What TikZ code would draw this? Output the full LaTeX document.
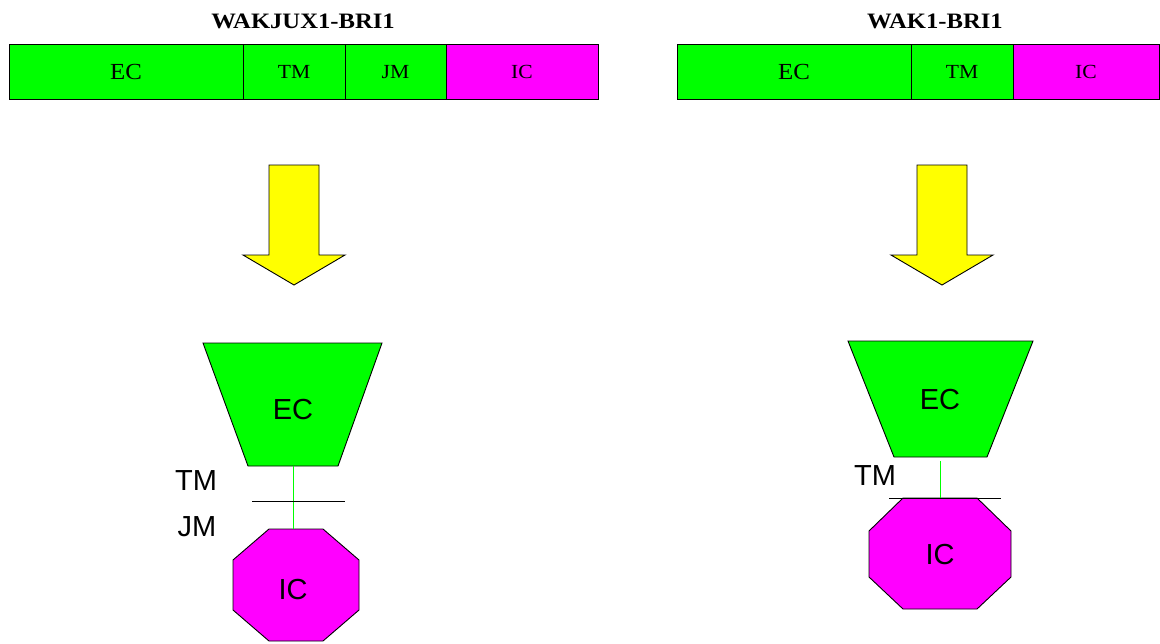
\documentclass[tikz,border=0pt]{standalone}
\usepackage{fontspec}
\setmainfont{Liberation Serif}
\newfontfamily\arialfont{Liberation Sans}
\newfontfamily\barfont[FakeStretch=1.08]{Liberation Serif}
\newfontfamily\titlefont[FakeStretch=1.12]{Liberation Serif}
\usetikzlibrary{positioning}
\definecolor{ecgreen}{RGB}{0,255,0}
\definecolor{icpink}{RGB}{255,0,255}
\definecolor{arrowyel}{RGB}{255,255,0}
\tikzset{
  cell/.style={draw, line width=0.9pt, outer sep=0pt, inner sep=0pt,
    minimum height=55pt, font=\barfont\fontsize{20}{20}\selectfont},
  bigcell/.style={cell, font=\barfont\fontsize{23}{23}\selectfont},
  title/.style={font=\titlefont\bfseries\fontsize{22}{22}\selectfont},
  lbl/.style={font=\arialfont\fontsize{29}{29}\selectfont, inner sep=0pt},
  shapefill/.style={draw, line width=0.9pt, line join=miter},
  arrowbox/.style={draw, line width=0.9pt, fill=arrowyel},
  greenlink/.style={ecgreen, line width=1pt},
  sepline/.style={black, line width=0.9pt}
}

\begin{document}
\begin{tikzpicture}[x=1pt, y=-1pt]
  \useasboundingbox (0,0) rectangle (1160,643);
  \def\yarrow{    \draw[arrowbox] (-25,0) -- (25,0) -- (25,90) -- (51,90)
      -- (0,120) -- (-51,90) -- (-25,90) -- cycle;
}
  % left: WAKJUX1-BRI1
  \node[title] (ltitle) at (303,21) {WAKJUX1-BRI1};
  \node[bigcell, fill=ecgreen, minimum width=234pt, anchor=west] (lec) at (9,72) {EC};
  \node[cell, fill=ecgreen, minimum width=102pt, right=0pt of lec] (ltm) {TM};
  \node[cell, fill=ecgreen, minimum width=101pt, right=0pt of ltm] (ljm) {JM};
  \node[cell, fill=icpink, minimum width=152pt, right=0pt of ljm] (lic) {IC};
  \begin{scope}[shift={(294,165)}]
    \yarrow
  \end{scope}
  \draw[shapefill, fill=ecgreen] (203,343) -- (382,343) -- (338,466) -- (248,466) -- cycle;
  \draw[shapefill, fill=icpink] (269,529) -- (323,529) -- (359,560) -- (359,610)
    -- (323,641) -- (269,641) -- (233,610) -- (233,560) -- cycle;
  \node[lbl] (lecl) at (293,410) {EC};
  \node[lbl] (licl) at (293,590) {IC};
  \node[lbl] (ltml) at (196,481) {TM};
  \node[lbl] (ljml) at (197,527) {JM};
  \coordinate (lecb) at (293.5,466);
  \coordinate (lict) at (293.5,529);
  \coordinate (lsepa) at (252,501);
  \coordinate (lsepb) at (345,501);
  \draw[greenlink] (lecb) -- (lict);
  \draw[sepline] (lsepa) -- (lsepb);

  % right: WAK1-BRI1
  \node[title] (rtitle) at (935,21) {WAK1-BRI1};
  \node[bigcell, fill=ecgreen, minimum width=234pt, anchor=west] (rec) at (677,72) {EC};
  \node[cell, fill=ecgreen, minimum width=102pt, right=0pt of rec] (rtm) {TM};
  \node[cell, fill=icpink, minimum width=146pt, right=0pt of rtm] (ric) {IC};
  \begin{scope}[shift={(942,165)}]
    \yarrow
  \end{scope}
  \draw[shapefill, fill=ecgreen] (848,341) -- (1033,341) -- (987,457) -- (894,457) -- cycle;
  \draw[shapefill, fill=icpink] (903,498) -- (977,498) -- (1011,531) -- (1011,577)
    -- (977,609) -- (903,609) -- (869,577) -- (869,531) -- cycle;
  \node[lbl] (recl) at (940,400) {EC};
  \node[lbl] (ricl) at (940,555) {IC};
  \node[lbl] (rtml) at (875,476) {TM};
  \coordinate (recb) at (940.5,461);
  \coordinate (rict) at (940.5,498);
  \coordinate (rsepa) at (889,498);
  \coordinate (rsepb) at (1001,498);
  \draw[greenlink] (recb) -- (rict);
  \draw[sepline] (rsepa) -- (rsepb);
\end{tikzpicture}
\end{document}
